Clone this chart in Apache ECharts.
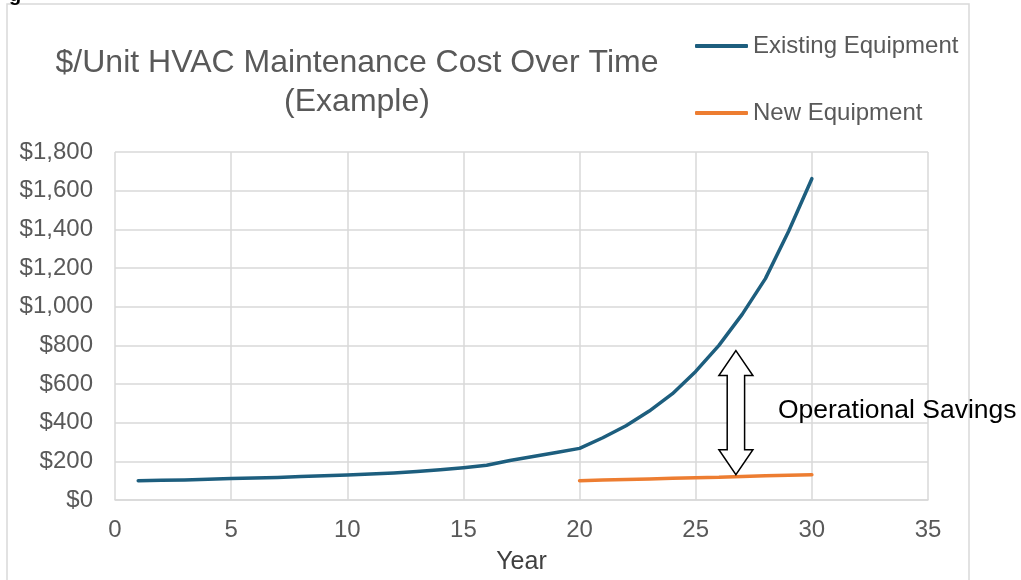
<!DOCTYPE html>
<html>
<head>
<meta charset="utf-8">
<script src="https://cdn.jsdelivr.net/npm/echarts@6/dist/echarts.min.js"></script>
<style>
html,body{margin:0;padding:0;background:#fff;}
#chart{width:1021px;height:580px;}
</style>
</head>
<body>
<div id="chart"></div>
<script>
const titleText = '$/Unit HVAC Maintenance Cost Over Time\n(Example)';
const seriesNames = ['Existing Equipment', 'New Equipment'];
const existingYears = [1,2,3,4,5,6,7,8,9,10,11,12,13,14,15,16,17,18,19,20,21,22,23,24,25,26,27,28,29,30];
const existingCost = [100,102,104,107,111,114,117,121,125,129,134,140,147,156,167,180,204,225,246,267,322,384,460,550,665,800,960,1145,1390,1662];
const newYears = [20,21,22,23,24,25,26,27,28,29,30];
const newCost = [100,103,106,109,112,115,118,122,125,128,131];
// savings annotation: [x (year), top value, bottom value, label x, label y]
const savingsArrow = [[26.73, 773, 131, 28.54, 462]];
const savingsLabel = 'Operational Savings';
const xTicks = {min: 0, max: 35, interval: 5};
const yTicks = {min: 0, max: 1800, interval: 200};
const xName = 'Year';

const FONT = "'Liberation Sans', Arial, sans-serif";
const GREY = '#595959';
const GRID = '#d9d9d9';

const chart = echarts.init(document.getElementById('chart'), null, {renderer: 'canvas'});
const option = {
  backgroundColor: '#ffffff',
  animation: false,
  title: {
    text: titleText,
    left: 357,
    top: 44,
    padding: 0,
    textAlign: 'center',
    textStyle: {fontFamily: FONT, fontSize: 32, fontWeight: 'normal', color: GREY, lineHeight: 39}
  },
  legend: {
    data: seriesNames,
    orient: 'vertical',
    left: 695,
    top: 34,
    padding: 0,
    itemGap: 43,
    itemWidth: 53,
    itemHeight: 4,
    icon: 'roundRect',
    textStyle: {fontFamily: FONT, fontSize: 24, color: GREY}
  },
  graphic: [
    {type: 'rect', shape: {x: 7, y: 4, width: 962, height: 600}, style: {fill: 'none', stroke: GRID, lineWidth: 1.5}, silent: true},
    {type: 'text', x: 9, y: 5, style: {text: 'g', font: "bold 20px 'Liberation Sans', Arial, sans-serif", fill: '#000', verticalAlign: 'bottom'}, silent: true}
  ],
  grid: {left: 115, top: 152, right: 93, bottom: 76, containLabel: false},
  xAxis: {
    type: 'value',
    min: xTicks.min, max: xTicks.max, interval: xTicks.interval,
    name: xName,
    nameLocation: 'middle',
    nameGap: 50,
    nameTextStyle: {fontFamily: FONT, fontSize: 25, color: '#404040'},
    axisLine: {show: true, lineStyle: {color: GRID, width: 1.5}},
    axisTick: {show: false},
    axisLabel: {fontFamily: FONT, fontSize: 24, color: GREY, margin: 18},
    splitLine: {show: true, lineStyle: {color: GRID, width: 1.5}}
  },
  yAxis: {
    type: 'value',
    min: yTicks.min, max: yTicks.max, interval: yTicks.interval,
    axisLine: {show: false},
    axisTick: {show: false},
    axisLabel: {fontFamily: FONT, fontSize: 24, color: GREY, margin: 22, padding: [4, 0, 0, 0],
      formatter: v => '$' + v.toLocaleString('en-US')},
    splitLine: {show: true, lineStyle: {color: GRID, width: 1.5}}
  },
  series: [
    {
      name: seriesNames[0], type: 'line',
      data: existingYears.map((y, i) => [y, existingCost[i]]),
      showSymbol: false, symbol: 'none',
      lineStyle: {color: '#1d5e7e', width: 3.5, cap: 'round', join: 'round'},
      itemStyle: {color: '#1d5e7e'},
      z: 3
    },
    {
      name: seriesNames[1], type: 'line',
      data: newYears.map((y, i) => [y, newCost[i]]),
      showSymbol: false, symbol: 'none',
      lineStyle: {color: '#ed7d31', width: 3.5, cap: 'round'},
      itemStyle: {color: '#ed7d31'},
      z: 3
    },
    {
      name: savingsLabel, type: 'custom',
      data: savingsArrow,
      z: 4,
      silent: true,
      renderItem: function (params, api) {
        const top = api.coord([api.value(0), api.value(1)]);
        const bot = api.coord([api.value(0), api.value(2)]);
        const lab = api.coord([api.value(3), api.value(4)]);
        const cx = top[0], hw = 17, sw = 8.7, hh = 25;
        const pts = [
          [cx, top[1]], [cx + hw, top[1] + hh], [cx + sw, top[1] + hh],
          [cx + sw, bot[1] - hh], [cx + hw, bot[1] - hh], [cx, bot[1]],
          [cx - hw, bot[1] - hh], [cx - sw, bot[1] - hh], [cx - sw, top[1] + hh],
          [cx - hw, top[1] + hh]
        ];
        return {
          type: 'group',
          children: [
            {type: 'polygon', shape: {points: pts}, style: {fill: '#ffffff', stroke: '#000000', lineWidth: 1.5}},
            {type: 'text', x: lab[0], y: lab[1], style: {text: savingsLabel, font: "26.5px 'Liberation Sans', Arial, sans-serif", fill: '#000000', align: 'left', verticalAlign: 'middle'}}
          ]
        };
      }
    }
  ]
};
chart.setOption(option);
</script>
</body>
</html>
